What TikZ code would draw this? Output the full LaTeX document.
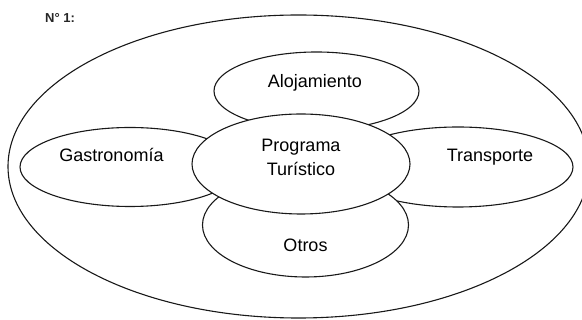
\documentclass[tikz,border=0pt]{standalone}
\usepackage{fontspec}
\setmainfont{Liberation Sans}
\usetikzlibrary{shapes.geometric}
\begin{document}
\begin{tikzpicture}[x=1pt,y=-1pt,
  blob/.style={ellipse, draw=black!90, line width=1.1pt, fill=white, inner sep=0pt},
  lbl/.style={font=\fontsize{18}{23}\selectfont, text=black, anchor=base, inner sep=0pt},
  tag/.style={font=\bfseries\fontsize{13}{15}\selectfont, text=black!85, anchor=base west, inner sep=0pt}]
\useasboundingbox (0,0) rectangle (582,320);
\clip (0,0) rectangle (582,320);
\node[blob, minimum width=581pt, minimum height=303pt] (outer) at (298.5,166.5) {};
\node[blob, minimum width=205pt, minimum height=78pt] (aloj) at (316.5,91) {};
\node[blob, minimum width=220pt, minimum height=79pt] (gast) at (130,167) {};
\node[blob, minimum width=230pt, minimum height=80pt] (trans) at (458,167) {};
\node[blob, minimum width=206pt, minimum height=104pt] (otros) at (305.5,225) {};
\node[blob, minimum width=218pt, minimum height=100pt] (prog) at (301,164) {};
\node[lbl] (taloj) at (315,87.5) {Alojamiento};
\node[lbl] (tgast) at (111.5,162) {Gastronomía};
\node[lbl] (ttrans) at (490,162) {Transporte};
\node[lbl] (tprogA) at (301,151.7) {Programa};
\node[lbl] (tprogB) at (301,176) {Turístico};
\node[lbl] (totros) at (305.5,251.7) {Otros};
\node[tag] (fig) at (45,23) {N° 1:};
\end{tikzpicture}
\end{document}
